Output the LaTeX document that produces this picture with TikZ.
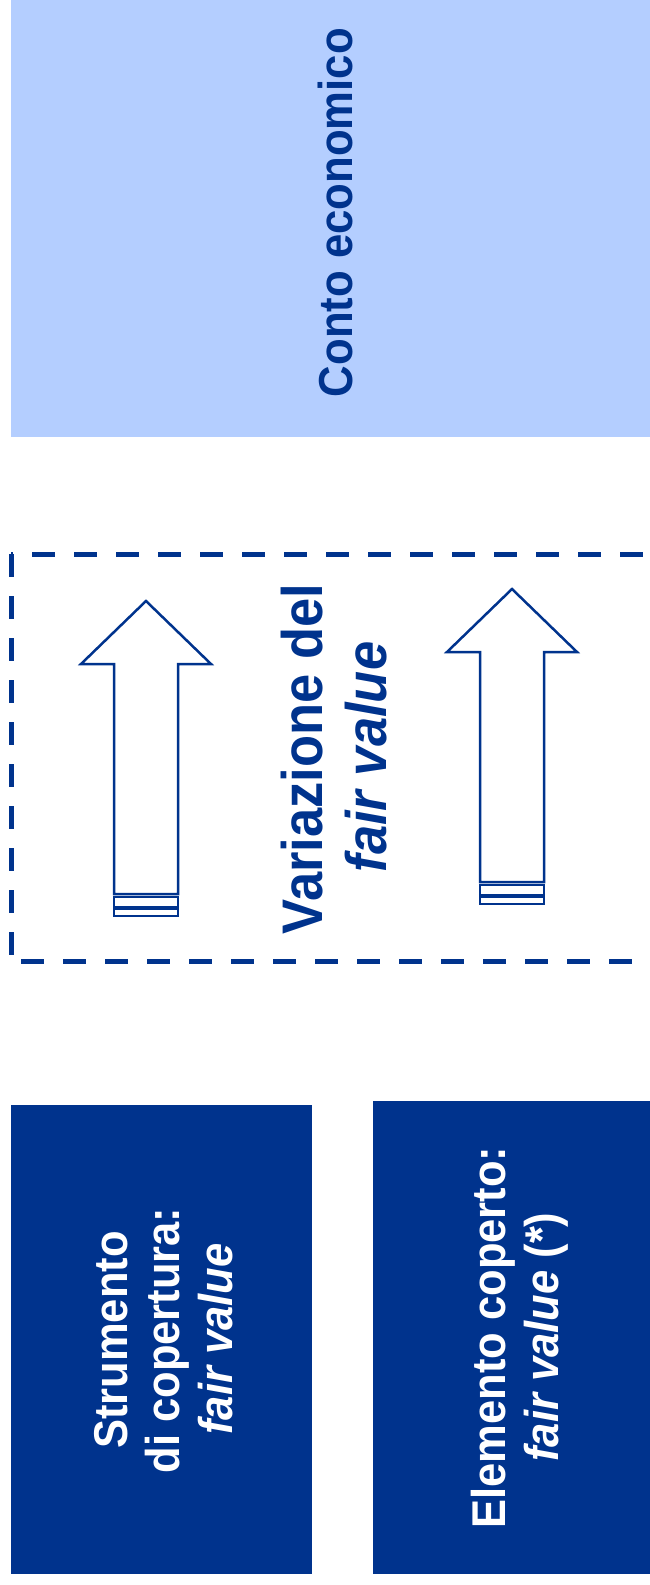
\documentclass[tikz,border=0pt]{standalone}
\usepackage{fontspec}
\setmainfont{Liberation Sans}
\definecolor{dkblue}{RGB}{0,51,141}
\definecolor{ltblue}{RGB}{180,206,255}
\newcommand{\stz}[1]{\scalebox{1}[1.09]{#1}}
\begin{document}
\begin{tikzpicture}[x=1pt,y=-1pt,
  txt/.style={rotate=90,anchor=base,inner sep=0pt,font=\bfseries},
  fs/.style={font=\bfseries\fontsize{#1}{#1}\selectfont},
  boxnode/.style={anchor=north west,inner sep=0pt,draw=none},
  dashframe/.style={draw=dkblue,line width=5pt,dash pattern=on 23pt off 19pt},
  arrowline/.style={draw=dkblue,line width=2.5pt,fill=white},
  stripedarrow/.pic={
    \path[arrowline] (-32,293) -- (-32,63) -- (-65,63) -- (0,0) -- (65,63) -- (32,63) -- (32,293) -- cycle;
    \path[arrowline] (-32,296) rectangle (32,306);
    \path[arrowline] (-32,308) rectangle (32,315);
  }]
\useasboundingbox (0,0) rectangle (650,1585);
\clip (0,0) rectangle (650,1585);

% Conto economico
\node[boxnode,fill=ltblue,minimum width=660pt,minimum height=442pt] (ce) at (11,-5) {};
\node[txt,fs=43.7,text=dkblue] (cet) at (352,212.5) {\stz{Conto economico}};

% dashed frame
\draw[dashframe] (11,554) -- (11,961);
\draw[dashframe,dash phase=21pt] (11,554) -- (670,554);
\draw[dashframe,dash phase=32pt] (11,961) -- (670,961);

% arrows
\pic at (146,601) {stripedarrow};
\pic at (512,589) {stripedarrow};

\node[txt,fs=52.5,text=dkblue] (var1) at (322,759) {\stz{Variazione del}};
\node[txt,fs=52.5,text=dkblue] (var2) at (386,757) {\stz{\itshape fair value}};

% bottom boxes
\node[boxnode,fill=dkblue,minimum width=301pt,minimum height=469pt] (sc) at (11,1105) {};
\node[txt,fs=43.5,text=white] (sc1) at (127,1340) {\stz{Strumento}};
\node[txt,fs=43.5,text=white] (sc2) at (179.5,1340.5) {\stz{di copertura:}};
\node[txt,fs=43.5,text=white] (sc3) at (232,1339) {\stz{\itshape fair value}};

\node[boxnode,fill=dkblue,minimum width=290pt,minimum height=473pt] (ec) at (373,1101) {};
\node[txt,fs=43.5,text=white] (ec1) at (505,1337.5) {\stz{Elemento coperto:}};
\node[txt,fs=43.5,text=white] (ec2) at (558,1337) {\stz{\textit{fair value} (*)}};
\end{tikzpicture}
\end{document}
